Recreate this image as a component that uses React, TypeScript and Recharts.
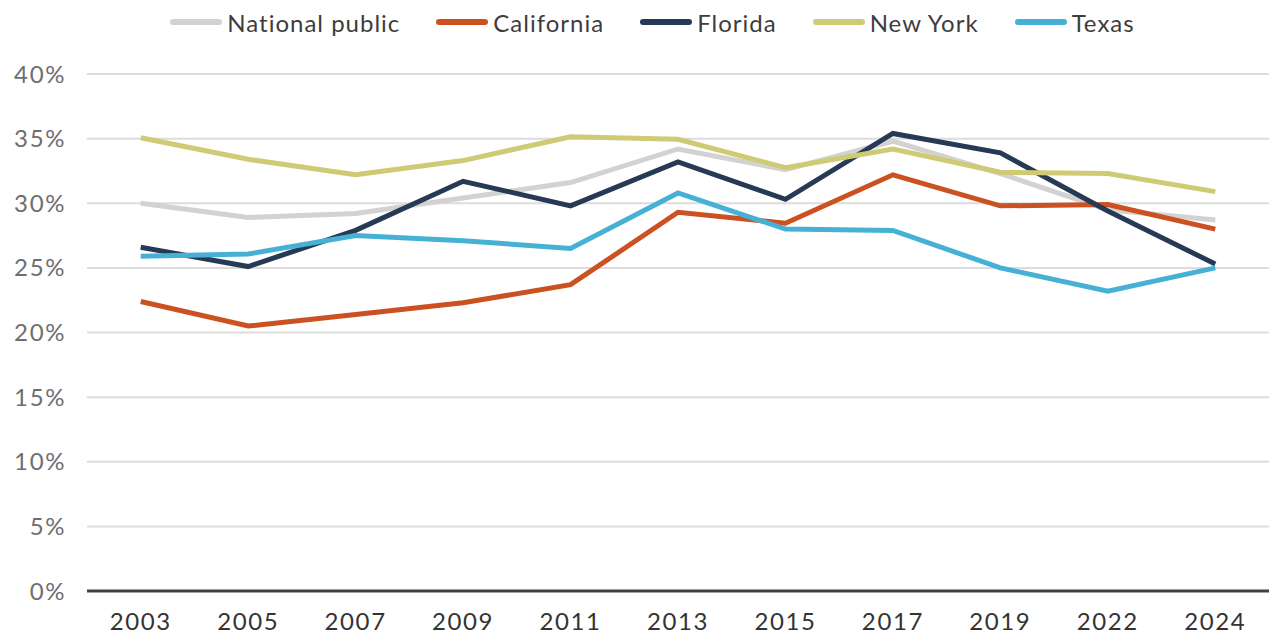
import { LineChart, Line, XAxis, YAxis, CartesianGrid, Legend } from 'recharts'

const years = ['2003', '2005', '2007', '2009', '2011', '2013', '2015', '2017', '2019', '2022', '2024']
const nationalPublic = [30.0, 28.9, 29.2, 30.4, 31.6, 34.2, 32.6, 34.8, 32.3, 29.5, 28.7]
const california = [22.4, 20.5, 21.4, 22.3, 23.7, 29.3, 28.45, 32.2, 29.8, 29.9, 28.0]
const florida = [26.6, 25.1, 27.9, 31.7, 29.8, 33.2, 30.3, 35.4, 33.9, 29.4, 25.3]
const newYork = [35.07, 33.4, 32.2, 33.3, 35.15, 34.95, 32.75, 34.2, 32.4, 32.3, 30.9]
const texas = [25.9, 26.07, 27.5, 27.1, 26.5, 30.8, 28.0, 27.9, 25.0, 23.2, 25.0]
const yTicks = [0, 5, 10, 15, 20, 25, 30, 35, 40]

const series = [
  { key: 'National public', values: nationalPublic, color: '#d2d2d2' },
  { key: 'California', values: california, color: '#cb5120' },
  { key: 'Florida', values: florida, color: '#263a55' },
  { key: 'New York', values: newYork, color: '#cfcb74' },
  { key: 'Texas', values: texas, color: '#46b1d5' },
]

const data = years.map((year, i) => {
  const row: Record<string, string | number> = { year }
  series.forEach(s => { row[s.key] = s.values[i] })
  return row
})

const font = 'Lato, "Open Sans", sans-serif'

function LegendRow() {
  return (
    <div style={{ height: 74, display: 'flex', justifyContent: 'center', paddingLeft: 36, boxSizing: 'border-box' }}>
      <div style={{ display: 'flex', alignItems: 'center', height: 44, gap: 36 }}>
        {series.map(s => (
          <div key={s.key} style={{ display: 'flex', alignItems: 'center' }}>
            <span style={{ width: 52, height: 6, borderRadius: 3, background: s.color, marginRight: 5 }} />
            <span style={{ fontFamily: font, fontSize: 24, color: '#3d3d3d', letterSpacing: 1 }}>{s.key}</span>
          </div>
        ))}
      </div>
    </div>
  )
}

export default function App() {
  return (
    <div style={{ width: 1269, height: 635, background: '#fff' }}>
      <style>{'body{margin:0}'}</style>
      <LineChart width={1269} height={635} data={data} margin={{ top: 0, right: 0, bottom: 0, left: 0 }}>
        <CartesianGrid vertical={false} stroke="#dcdcdc" strokeWidth={2} />
        <XAxis
          dataKey="year"
          scale="band"
          height={44}
          tickLine={false}
          tickSize={0}
          tickMargin={22}
          axisLine={{ stroke: '#404040', strokeWidth: 3 }}
          tick={{ fill: '#333333', fontSize: 24, fontFamily: font, style: { letterSpacing: 1.6 } }}
          interval={0}
        />
        <YAxis
          width={87}
          domain={[0, 40]}
          ticks={yTicks}
          tickFormatter={v => `${v}%`}
          axisLine={false}
          tickLine={false}
          tickSize={0}
          tickMargin={21}
          tick={{ fill: '#6d6e71', fontSize: 24, fontFamily: font, style: { letterSpacing: 1.6 } }}
        />
        <Legend verticalAlign="top" content={() => <LegendRow />} />
        {series.map(s => (
          <Line
            key={s.key}
            dataKey={s.key}
            stroke={s.color}
            strokeWidth={5}
            dot={false}
            activeDot={false}
            isAnimationActive={false}
          />
        ))}
      </LineChart>
    </div>
  )
}
